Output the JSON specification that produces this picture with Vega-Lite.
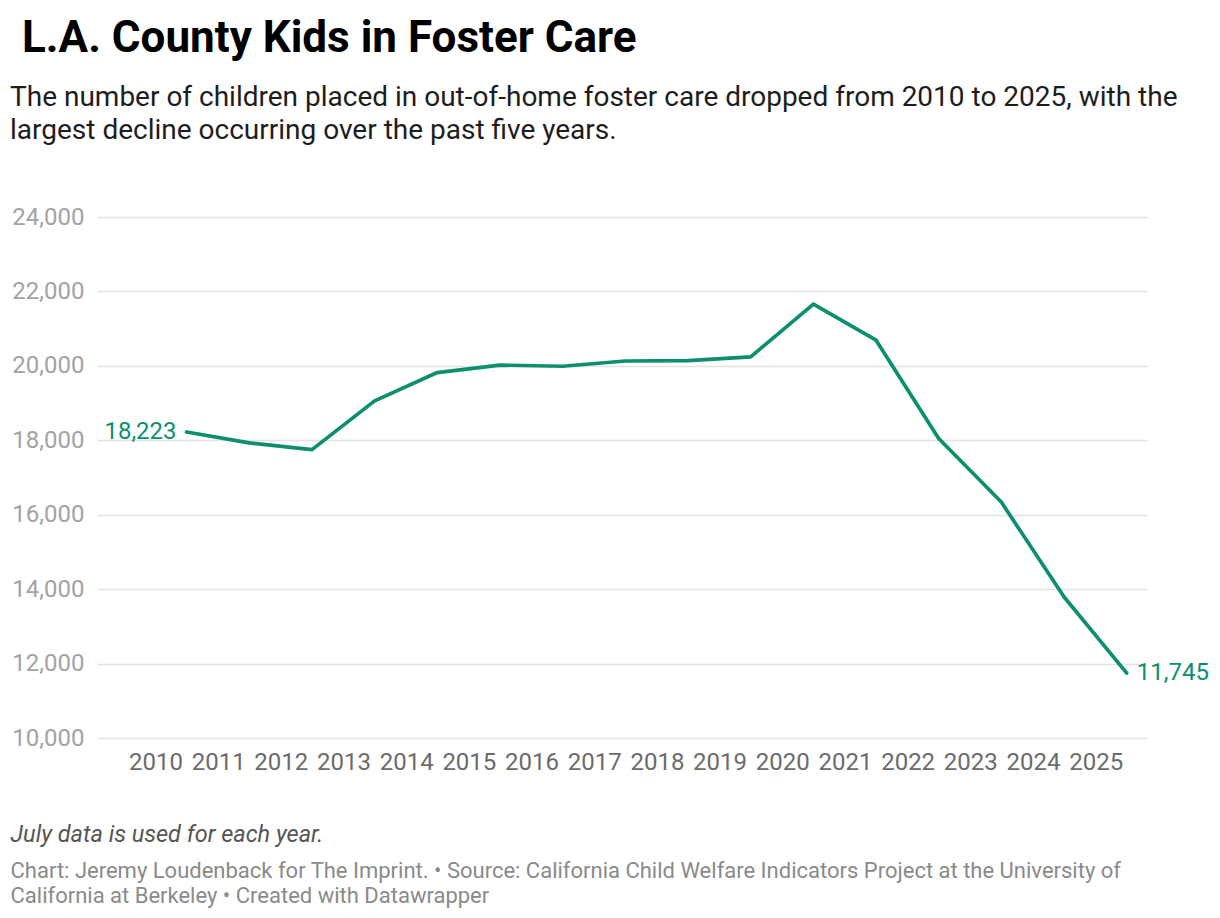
{
  "$schema": "https://vega.github.io/schema/vega-lite/v6.json",
  "width": 1050,
  "height": 521,
  "autosize": {"type": "none"},
  "padding": {"left": 97, "top": 217, "right": 73, "bottom": 180},
  "background": "#ffffff",
  "config": {
    "font": "Roboto",
    "view": {"stroke": null}
  },
  "title": {
    "text": "L.A. County Kids in Foster Care",
    "subtitle": [
      "The number of children placed in out-of-home foster care dropped from 2010 to 2025, with the",
      "largest decline occurring over the past five years."
    ],
    "encoding": {"dx": {"value": -75}},
    "anchor": "start",
    "frame": "group",
    "dx": -87,
    "offset": 60,
    "font": "Roboto",
    "fontSize": 44,
    "fontWeight": 700,
    "color": "#000000",
    "subtitleFont": "Roboto",
    "subtitleFontSize": 28,
    "subtitleColor": "#1d1d1d",
    "subtitleLineHeight": 33,
    "subtitlePadding": 23
  },
  "data": {
    "values": [
      {"date": "2010-07-01", "children": 18223},
      {"date": "2011-07-01", "children": 17930},
      {"date": "2012-07-01", "children": 17750},
      {"date": "2013-07-01", "children": 19060},
      {"date": "2014-07-01", "children": 19820},
      {"date": "2015-07-01", "children": 20020},
      {"date": "2016-07-01", "children": 19990},
      {"date": "2017-07-01", "children": 20130},
      {"date": "2018-07-01", "children": 20140},
      {"date": "2019-07-01", "children": 20240},
      {"date": "2020-07-01", "children": 21660},
      {"date": "2021-07-01", "children": 20690},
      {"date": "2022-07-01", "children": 18050},
      {"date": "2023-07-01", "children": 16340},
      {"date": "2024-07-01", "children": 13790},
      {"date": "2025-07-01", "children": 11745}
    ]
  },
  "encoding": {
    "x": {
      "field": "date",
      "type": "temporal",
      "scale": {
        "type": "utc",
        "domain": [
          {"year": 2009, "month": 1, "date": 25, "utc": true},
          {"year": 2025, "month": 10, "date": 27, "utc": true}
        ]
      },
      "axis": {
        "values": [
          {"year": 2010, "month": 1, "date": 1, "utc": true},
          {"year": 2011, "month": 1, "date": 1, "utc": true},
          {"year": 2012, "month": 1, "date": 1, "utc": true},
          {"year": 2013, "month": 1, "date": 1, "utc": true},
          {"year": 2014, "month": 1, "date": 1, "utc": true},
          {"year": 2015, "month": 1, "date": 1, "utc": true},
          {"year": 2016, "month": 1, "date": 1, "utc": true},
          {"year": 2017, "month": 1, "date": 1, "utc": true},
          {"year": 2018, "month": 1, "date": 1, "utc": true},
          {"year": 2019, "month": 1, "date": 1, "utc": true},
          {"year": 2020, "month": 1, "date": 1, "utc": true},
          {"year": 2021, "month": 1, "date": 1, "utc": true},
          {"year": 2022, "month": 1, "date": 1, "utc": true},
          {"year": 2023, "month": 1, "date": 1, "utc": true},
          {"year": 2024, "month": 1, "date": 1, "utc": true},
          {"year": 2025, "month": 1, "date": 1, "utc": true}
        ],
        "format": "%Y",
        "grid": false,
        "ticks": false,
        "domain": false,
        "labelFont": "Roboto",
        "labelFontSize": 24,
        "labelColor": "#6b6b6b",
        "labelPadding": 12,
        "labelAlign": "center",
        "labelBaseline": "top",
        "labelFlush": false,
        "labelOverlap": false,
        "title": "July data is used for each year.",
        "titleFont": "Roboto",
        "titleFontSize": 23.5,
        "titleFontStyle": "italic",
        "titleFontWeight": "normal",
        "titleColor": "#555555",
        "titleAnchor": "start",
        "titleAlign": "left",
        "titleBaseline": "alphabetic",
        "titleX": -87,
        "titleY": 103
      }
    },
    "y": {
      "field": "children",
      "type": "quantitative",
      "scale": {"domain": [10000, 24000], "nice": false, "zero": false},
      "axis": {
        "values": [10000, 12000, 14000, 16000, 18000, 20000, 22000, 24000],
        "format": ",d",
        "grid": true,
        "gridColor": "#e3e3e3",
        "gridWidth": 1.5,
        "ticks": false,
        "domain": false,
        "labelFont": "Roboto",
        "labelFontSize": 24,
        "labelColor": "#a3a3a3",
        "labelPadding": 13,
        "labelBaseline": "middle",
        "labelFlush": false,
        "title": [
          "Chart: Jeremy Loudenback for The Imprint. \u2022 Source: California Child Welfare Indicators Project at the University of",
          "California at Berkeley \u2022 Created with Datawrapper"
        ],
        "titleFont": "Roboto",
        "titleFontSize": 22,
        "titleFontWeight": "normal",
        "titleColor": "#8a8a8a",
        "titleAngle": 0,
        "titleAlign": "left",
        "titleBaseline": "alphabetic",
        "titleLineHeight": 25,
        "titleX": -87,
        "titleY": 660
      }
    }
  },
  "layer": [
    {
      "mark": {"type": "line", "color": "#0b8f6f", "strokeWidth": 3.7, "strokeJoin": "round", "strokeCap": "round"}
    },
    {
      "transform": [{"filter": "year(datum.date) == 2010"}],
      "mark": {"type": "text", "align": "right", "baseline": "middle", "dx": -10, "fontSize": 24, "color": "#0b8f6f", "font": "Roboto"},
      "encoding": {"text": {"field": "children", "type": "quantitative", "format": ","}}
    },
    {
      "transform": [{"filter": "year(datum.date) == 2025"}],
      "mark": {"type": "text", "align": "left", "baseline": "middle", "dx": 10, "fontSize": 24, "color": "#0b8f6f", "font": "Roboto"},
      "encoding": {"text": {"field": "children", "type": "quantitative", "format": ","}}
    }
  ]
}
